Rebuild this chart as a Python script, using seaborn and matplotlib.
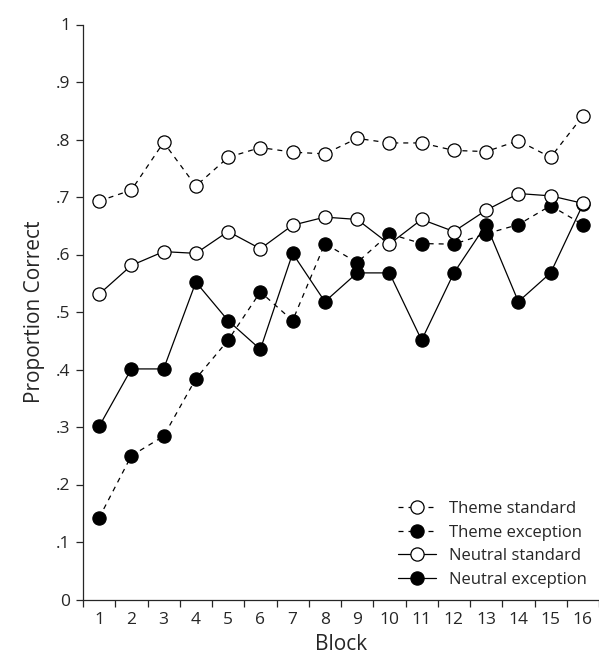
import seaborn as sns
import matplotlib.pyplot as plt
import pandas as pd

# Values
blocks = list(range(1, 17))
theme_standard = [0.693, 0.712, 0.795, 0.719, 0.769, 0.786, 0.778, 0.775,
                  0.802, 0.794, 0.794, 0.781, 0.779, 0.798, 0.769, 0.841]
theme_exception = [0.142, 0.250, 0.284, 0.384, 0.451, 0.535, 0.485, 0.619,
                   0.586, 0.636, 0.619, 0.618, 0.636, 0.652, 0.685, 0.652]
neutral_standard = [0.531, 0.581, 0.605, 0.602, 0.640, 0.610, 0.651, 0.665,
                    0.661, 0.618, 0.661, 0.640, 0.677, 0.706, 0.702, 0.689]
neutral_exception = [0.301, 0.401, 0.401, 0.552, 0.485, 0.435, 0.602, 0.518,
                     0.568, 0.568, 0.451, 0.568, 0.652, 0.518, 0.568, 0.687]
y_ticks = [0, 0.1, 0.2, 0.3, 0.4, 0.5, 0.6, 0.7, 0.8, 0.9, 1.0]
y_tick_labels = ['0', '.1', '.2', '.3', '.4', '.5', '.6', '.7', '.8', '.9', '1']

df = pd.DataFrame({'block': blocks,
                   'Theme standard': theme_standard,
                   'Theme exception': theme_exception,
                   'Neutral standard': neutral_standard,
                   'Neutral exception': neutral_exception})

sns.set_style('ticks')
plt.rcParams['font.family'] = ['Open Sans', 'DejaVu Sans']

fig = plt.figure(figsize=(5.99, 6.64), dpi=100)
ax = fig.add_axes([83 / 599, 64.5 / 664, 516 / 599, 575 / 664])

# series name, linestyle, marker face, zorder
styles = [
    ('Theme standard', (0, (4, 4)), 'white', 3),
    ('Theme exception', (0, (4, 4)), 'black', 4),
    ('Neutral standard', '-', 'white', 5),
    ('Neutral exception', '-', 'black', 2),
]
handles = {}
for name, ls, face, z in styles:
    sns.lineplot(data=df, x='block', y=name, ax=ax, color='black',
                 linewidth=0.9, linestyle=ls, marker='o', markersize=9.5,
                 markerfacecolor=face, markeredgecolor='black',
                 markeredgewidth=0.9, zorder=z, label=name)

ax.set_xlim(0.5, 16.39)
ax.set_ylim(0, 1)
ax.set_xticks(blocks)
ax.set_xticks([b - 0.5 for b in blocks] + [16.5], minor=True)
ax.tick_params(axis='x', which='major', length=0, pad=9, labelsize=12.5)
ax.tick_params(axis='x', which='minor', length=5, width=0.9, direction='out')
ax.set_yticks(y_ticks)
ax.set_yticklabels(y_tick_labels)
ax.tick_params(axis='y', length=5, width=0.9, labelsize=12.5, pad=4)
for side in ['top', 'right']:
    ax.spines[side].set_visible(False)
for side in ['left', 'bottom']:
    ax.spines[side].set_linewidth(0.9)

ax.set_xlabel('Block', fontsize=15, labelpad=4)
ax.set_ylabel('Proportion Correct', fontsize=15, labelpad=8)

ax.legend(loc='lower right', frameon=False, fontsize=12, handlelength=2.3,
          handletextpad=0.8, labelspacing=0.45, borderaxespad=0.3,
          bbox_to_anchor=(1.0, 0.0))

fig.savefig('out.png', dpi=100)
